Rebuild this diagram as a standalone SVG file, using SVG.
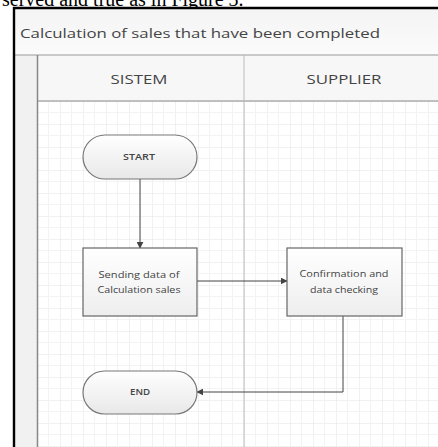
<svg xmlns="http://www.w3.org/2000/svg" width="438" height="447" viewBox="0 0 438 447">
  <defs>
    <linearGradient id="gTerm" x1="0" y1="0" x2="0" y2="1">
      <stop offset="0" stop-color="#ffffff"/>
      <stop offset="1" stop-color="#e8e8e8"/>
    </linearGradient>
    <linearGradient id="gBox" x1="0" y1="0" x2="0" y2="1">
      <stop offset="0" stop-color="#ffffff"/>
      <stop offset="1" stop-color="#eeeeee"/>
    </linearGradient>
    <linearGradient id="gTitle" x1="0" y1="0" x2="0" y2="1">
      <stop offset="0" stop-color="#f4f4f4"/>
      <stop offset="1" stop-color="#fbfbfb"/>
    </linearGradient>
    <pattern id="grid" x="37" y="101" width="23" height="23" patternUnits="userSpaceOnUse">
      <path d="M0 0H23M0 0V23" fill="none" stroke="#e4e4e4" stroke-width="1"/>
      <path d="M0 11.5H23M11.5 0V23" fill="none" stroke="#f3f3f3" stroke-width="1"/>
    </pattern>
    <marker id="arr" viewBox="0 0 10 10" refX="9" refY="5" markerWidth="7" markerHeight="7" orient="auto-start-reverse" markerUnits="userSpaceOnUse">
      <path d="M0 0L10 5L0 10z" fill="#444"/>
    </marker>
  </defs>
  <style>
    .lbl{font-family:"Open Sans","DejaVu Sans",sans-serif;fill:#444;text-anchor:middle}
    .small{font-size:8.5px}
    .term{fill:url(#gTerm);stroke:#777;stroke-width:1.2}
    .box{fill:url(#gBox);stroke:#666;stroke-width:1.2}
    .conn{fill:none;stroke:#444;stroke-width:1}
  </style>

  <rect width="438" height="447" fill="#ffffff"/>
  <text x="2" y="6" font-family="Liberation Serif,serif" font-size="20" fill="#000">served and true as in Figure 3.</text>

  <g id="pool">
    <rect x="15" y="9" width="423" height="46" fill="url(#gTitle)"/>
    <rect x="15" y="55" width="22" height="392" fill="#f1f1f1"/>
    <rect x="38" y="55" width="400" height="46" fill="#f7f7f7"/>
    <rect x="38" y="101" width="400" height="346" fill="url(#grid)"/>
    <line x1="15" y1="55" x2="438" y2="55" stroke="#9a9a9a" stroke-width="1.2"/>
    <line x1="37.5" y1="55" x2="37.5" y2="447" stroke="#888" stroke-width="1.5"/>
    <line x1="37" y1="101" x2="438" y2="101" stroke="#8a8a8a" stroke-width="1.2"/>
    <line x1="244" y1="55" x2="244" y2="447" stroke="#bbbbbb" stroke-width="1"/>
    <line x1="13" y1="8" x2="438" y2="8" stroke="#000" stroke-width="2.4"/>
    <line x1="14" y1="7" x2="14" y2="447" stroke="#000" stroke-width="2.4"/>
    <text x="20" y="38" font-family="Open Sans,DejaVu Sans,sans-serif" font-size="13" fill="#444" textLength="360" lengthAdjust="spacingAndGlyphs">Calculation of sales that have been completed</text>
    <text class="lbl" x="139" y="84" font-size="13" textLength="57" lengthAdjust="spacingAndGlyphs">SISTEM</text>
    <text class="lbl" x="344" y="84" font-size="13" textLength="75" lengthAdjust="spacingAndGlyphs">SUPPLIER</text>
  </g>

  <g id="connectors">
    <line class="conn" x1="140" y1="179" x2="140" y2="248" marker-end="url(#arr)"/>
    <line class="conn" x1="197" y1="281" x2="287" y2="281" marker-end="url(#arr)"/>
    <polyline class="conn" points="343,316 343,392 197,392" marker-end="url(#arr)" stroke="#555"/>
  </g>

  <g id="start">
    <rect class="term" x="83" y="135" width="114" height="44" rx="22" ry="22"/>
    <text class="lbl" x="139" y="160" font-size="9" font-weight="600" textLength="32" lengthAdjust="spacingAndGlyphs">START</text>
  </g>

  <g id="sending">
    <rect class="box" x="83" y="248" width="114" height="68"/>
    <text class="lbl small" x="139" y="278" textLength="81" lengthAdjust="spacingAndGlyphs">Sending data of</text>
    <text class="lbl small" x="139" y="293" textLength="83" lengthAdjust="spacingAndGlyphs">Calculation sales</text>
  </g>

  <g id="confirmation">
    <rect class="box" x="287" y="248" width="115" height="68"/>
    <text class="lbl small" x="344" y="277" textLength="89" lengthAdjust="spacingAndGlyphs">Confirmation and</text>
    <text class="lbl small" x="344" y="293" textLength="68" lengthAdjust="spacingAndGlyphs">data checking</text>
  </g>

  <g id="end">
    <rect class="term" x="83" y="371" width="114" height="43" rx="21.5" ry="21.5"/>
    <text class="lbl" x="140" y="395" font-size="9" font-weight="600" textLength="20" lengthAdjust="spacingAndGlyphs">END</text>
  </g>
</svg>
